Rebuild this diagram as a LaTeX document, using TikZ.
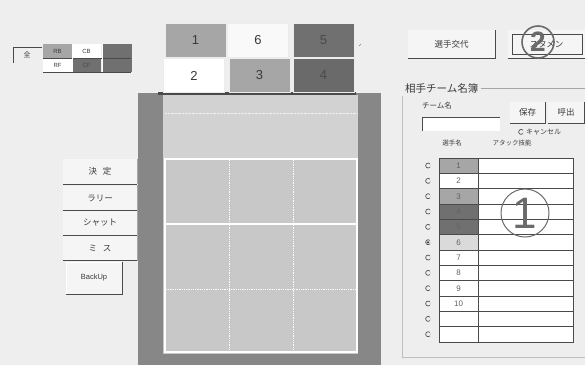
\documentclass[tikz,border=0pt]{standalone}
\usepackage{fontspec}
\setmainfont{Liberation Sans}
\newfontfamily\jp{Noto Sans CJK JP}
\definecolor{bg}{HTML}{EEEEEE}
\definecolor{btnface}{HTML}{F5F5F5}
\definecolor{midg}{HTML}{A6A6A6}
\definecolor{darkg}{HTML}{707070}
\definecolor{lightg}{HTML}{DADADA}
\definecolor{courtout}{HTML}{878787}
\definecolor{courtin}{HTML}{C8C8C8}
\definecolor{courttop}{HTML}{D2D2D2}
\definecolor{edge}{HTML}{4A4A4A}
\definecolor{ink}{HTML}{3A3A3A}
\definecolor{circ}{HTML}{6A6A6A}
\tikzset{
  tile/.style={minimum width=61pt, minimum height=34pt, inner sep=0, draw=white!85!gray, line width=0.8pt, font=\fontsize{13}{13}\selectfont, text=ink},
  pcell/.style={minimum width=29pt, minimum height=14pt, inner sep=0, font=\fontsize{6}{6}\selectfont, text=ink},
  btnbox/.style={fill=btnface, inner sep=0, font=\jp\fontsize{8.5}{9}\selectfont, text=ink},
  sidebtn/.style={btnbox, minimum width=74pt, minimum height=25pt},
  namecell/.style={minimum width=39pt, minimum height=15.33pt, inner sep=0, font=\fontsize{8}{8}\selectfont, text=ink!80},
  radio/.style={circle, draw=gray!40, minimum size=5pt, inner sep=0},
  lbl/.style={inner sep=0, font=\jp\fontsize{8}{8}\selectfont, text=ink},
  bignum/.style={inner sep=0, text=circ}
}
\begin{document}
\begin{tikzpicture}[x=1pt,y=-1pt]
\fill[bg] (0,0) rectangle (585,365);
\useasboundingbox (0,0) rectangle (585,365);

% ---------- court ----------
\fill[courtout] (138,93) rectangle (381,365);
\fill[courtin] (163,95) rectangle (358,354);
\fill[courttop] (163,95) rectangle (358,158);
\draw[white!70!courttop, densely dotted] (165,113) -- (357,113);
\draw[white, line width=1.2pt] (165,159) rectangle (357,352);
\draw[white, line width=1.2pt] (165,224) -- (357,224);
\draw[white, densely dotted, line width=0.8pt] (229,160) -- (229,351);
\draw[white, densely dotted, line width=0.8pt] (293,160) -- (293,351);
\draw[white, densely dotted, line width=0.8pt] (166,289) -- (356,289);
\fill[edge] (158,92) rectangle (356,95);

% ---------- position tiles ----------
\node[tile, fill=midg] (t1) at (195.5,40) {1};
\node[tile, fill=white!95!gray] (t6) at (258,40) {6};
\node[tile, fill=darkg, text=edge] (t5) at (323.5,40.5) {5};
\node[tile, fill=white] (t2) at (194,75.5) {2};
\node[tile, fill=midg] (t3) at (259.5,75.5) {3};
\node[tile, fill=darkg!95!black, text=edge] (t4) at (323.5,75.5) {4};
\draw[gray, line width=0.5pt] (359,46) -- (361,44);

% ---------- left small panel ----------
\draw[edge, line width=0.8pt] (42,47) -- (13,47) -- (13,63);
\node[lbl, font=\jp\fontsize{7}{7}\selectfont] (zen) at (27,55) {全};
\node[pcell, fill=midg] (rb) at (57.5,51) {RB};
\node[pcell, fill=white] (cb) at (86.5,51) {CB};
\node[pcell, fill=darkg] (x1) at (117,51) {};
\node[pcell, fill=white] (rf) at (57.5,65) {RF};
\node[pcell, fill=darkg, text=edge] (cf) at (86.5,65) {CF};
\node[pcell, fill=darkg] (x2) at (117,65) {};
\draw[edge, line width=0.6pt] (43,58) -- (131,58);
\draw[edge, line width=0.6pt] (43,72) -- (131,72);
\draw[white, line width=0.6pt] (72,44) -- (72,72);
\draw[white, line width=0.6pt] (102,44) -- (102,72);

% ---------- left buttons ----------
\node[sidebtn] (kettei) at (100,171.5) {決\hspace{6pt}定};
\node[sidebtn] (rally) at (100,198) {ラリー};
\node[sidebtn] (shut) at (100,223) {シャット};
\node[sidebtn] (miss) at (100,248) {ミ\hspace{6pt}ス};
\foreach \n in {kettei,rally,shut,miss}{
  \draw[edge, line width=0.9pt] (\n.south west) -- (\n.south east);
  \draw[gray!70, line width=0.6pt] (\n.south east) -- (\n.north east);
}
\node[btnbox, minimum width=56pt, minimum height=32pt, font=\fontsize{7.5}{8}\selectfont] (backup) at (94,278) {BackUp};
\draw[edge, line width=0.9pt] (backup.south west) -- (backup.south east) -- (backup.north east);
\draw[white, line width=0.6pt] (backup.south west) -- (backup.north west) -- (backup.north east);

% ---------- right top buttons ----------
\node[btnbox, minimum width=87pt, minimum height=28pt] (koutai) at (451.5,44) {選手交代};
\draw[edge, line width=0.9pt] (koutai.south west) -- (koutai.south east) -- (koutai.north east);
\node[btnbox, minimum width=77pt, minimum height=28pt] (stamen) at (546.5,44) {スタメン};
\draw[edge, line width=0.9pt] (stamen.south west) -- (stamen.south east) -- (stamen.north east);
\draw[edge, line width=0.6pt] (512,34) rectangle (582,54);
\node[circle, draw=circ, line width=1.6pt, minimum size=32pt, inner sep=0] (c2) at (538,42) {};
\node[bignum, font=\bfseries\fontsize{28}{28}\selectfont] (n2) at (538,42) {2};

% ---------- opponent group ----------
\node[lbl, anchor=west, font=\jp\fontsize{10.5}{11}\selectfont] (grp) at (405,88) {相手チーム名簿};
\draw[gray!70, line width=0.5pt] (grp.east) ++(2,0) -- (585,88);
\draw[gray!50, line width=0.5pt] (402,96) -- (402,357) -- (585,357);
\node[lbl, anchor=west, font=\jp\fontsize{7.5}{8}\selectfont] (tname) at (422,106) {チーム名};
\fill[white] (422,117) rectangle (500,131);
\draw[edge, line width=0.9pt] (422,131) -- (422,117) -- (500,117);
\node[btnbox, minimum width=35pt, minimum height=21pt] (hozon) at (527.5,112.5) {保存};
\draw[edge, line width=0.9pt] (hozon.south west) -- (hozon.south east) -- (hozon.north east);
\node[btnbox, minimum width=36pt, minimum height=21pt] (yobi) at (566,112.5) {呼出};
\draw[edge, line width=0.9pt] (yobi.south west) -- (yobi.south east) -- (yobi.north east);
\node[radio] (rcancel) at (521,132) {};
\draw[edge, line width=0.6pt] (rcancel.45) arc (45:315:2.5pt);
\node[lbl, anchor=west, font=\jp\fontsize{7}{7}\selectfont] (cancel) at (526,132) {キャンセル};
\node[lbl, font=\jp\fontsize{6.5}{7}\selectfont] (hname) at (452,143) {選手名};
\node[lbl, font=\jp\fontsize{6.5}{7}\selectfont] (hskill) at (512,143) {アタック技能};

% ---------- table ----------
\fill[white] (439,158) rectangle (573,342);
\foreach \i/\t/\c in {1/1/midg,2/2/white,3/3/midg,4/4/darkg,5/5/darkg,6/6/lightg,7/7/white,8/8/white,9/9/white,10/10/white,11//white,12//white}{
  \node[namecell, fill=\c] (nm\i) at (458.5,{158+15.333*(\i-0.5)}) {\t};
  \node[radio] (rd\i) at (428,{158+15.333*(\i-0.5)}) {};
  \draw[edge, line width=0.6pt] (rd\i.45) arc (45:315:2.5pt);
}
\fill[ink] (rd6) circle (1.3pt);
\foreach \i in {1,...,11}{
  \draw[edge, line width=0.7pt] (439,{158+15.333*\i}) -- (573,{158+15.333*\i});
}
\draw[edge, line width=0.8pt] (439,158) rectangle (573,342);
\draw[edge, line width=0.8pt] (478,158) -- (478,342);
\node[circle, draw=circ, line width=1pt, minimum size=48pt, inner sep=0] (c1) at (525,213) {};
\node[bignum, font=\fontsize{44}{44}\selectfont] (n1) at (525,213) {1};
\end{tikzpicture}
\end{document}
